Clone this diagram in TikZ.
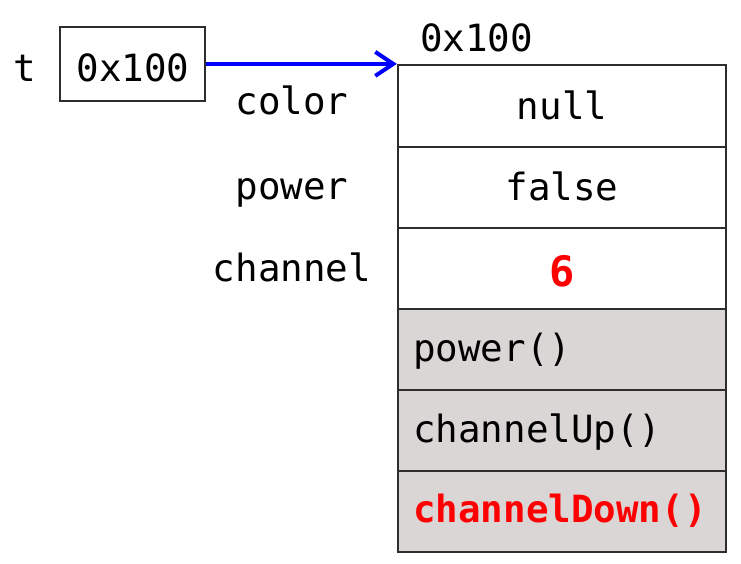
\documentclass[tikz,border=0pt]{standalone}
\usepackage{fontspec}
\setmonofont{DejaVu Sans Mono}
\usetikzlibrary{arrows.meta}
\definecolor{cellgray}{RGB}{217,214,213}
\definecolor{edge}{RGB}{45,45,45}
\definecolor{hired}{RGB}{255,0,0}
\begin{document}
\begin{tikzpicture}[x=1pt,y=1pt,
  txt/.style={inner sep=0pt,font=\ttfamily\fontsize{37.5}{40}\selectfont},
  lbl/.style={txt,anchor=base},
  lblw/.style={txt,anchor=base west},
  cell/.style={draw=edge,line width=2.2pt,minimum width=328pt,minimum height=81pt,inner sep=0pt},
  wcell/.style={cell,fill=white},
  gcell/.style={cell,fill=cellgray},
  ptrbox/.style={draw=edge,line width=2.2pt,minimum width=145pt,minimum height=74pt,inner sep=0pt},
  ptrarrow/.style={draw=blue,line width=4pt,-{Straight Barb[length=18pt,width=24pt,line width=4pt]}}]
\useasboundingbox (0,0) rectangle (741,564);
\fill[white] (0,0) rectangle (741,564);
% object cells
\node[wcell,minimum height=82pt] (r1) at (562,458) {};
\node[wcell] (r2) at (562,376.5) {};
\node[wcell] (r3) at (562,295.5) {};
\node[gcell] (r4) at (562,214.5) {};
\node[gcell] (r5) at (562,133.5) {};
\node[gcell] (r6) at (562,52.5) {};
% pointer box
\node[ptrbox] (ptr) at (132.5,500) {};
\node[lbl] (ptrtxt) at (133,482) {0x100};
\node[lbl] (tname) at (25,482) {t};
\node[lblw] (addr) at (420,512) {0x100};
% field names
\node[lbl] (fcolor) at (292,449) {color};
\node[lbl] (fpower) at (292,364) {power};
\node[lbl] (fchannel) at (292,282) {channel};
% values
\node[lbl] (vnull) at (562,444) {null};
\node[lbl] (vfalse) at (562,363) {false};
\node[lbl,text=hired,font=\ttfamily\bfseries\fontsize{42}{44}\selectfont] (vsix) at (562,277) {6};
% methods
\node[lblw] (mpower) at (413,202) {power()};
\node[lblw] (mup) at (413,121) {channelUp()};
\node[lblw,text=hired,font=\ttfamily\bfseries\fontsize{37.5}{40}\selectfont] (mdown) at (413,41) {channelDown()};
% reference arrow
\draw[ptrarrow] (ptr.east |- r1.north west) -- (r1.north west);
\end{tikzpicture}
\end{document}
